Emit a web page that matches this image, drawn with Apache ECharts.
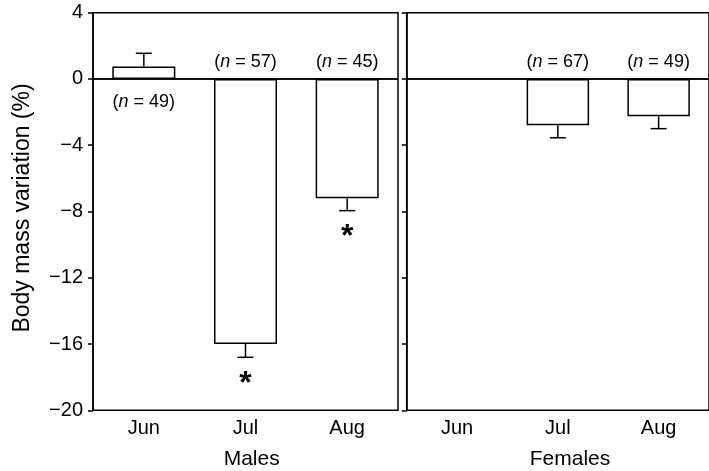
<!DOCTYPE html>
<html>
<head>
<meta charset="utf-8">
<script src="https://cdn.jsdelivr.net/npm/echarts@6/dist/echarts.min.js"></script>
<style>
html,body{margin:0;padding:0;background:#fff;}
#chart{width:709px;height:471px;}
</style>
</head>
<body>
<div id="chart"></div>
<script>
// ---- data ----
const months = ['Jun', 'Jul', 'Aug'];
const maleMean = [0.75, -16.0, -7.2];
const maleErrEnd = [1.55, -16.8, -7.95];
const maleN = [49, 57, 45];
const maleSig = [false, true, true];
const femaleMean = [null, -2.8, -2.25];
const femaleErrEnd = [null, -3.55, -3.0];
const femaleN = [null, 67, 49];
const femaleSig = [false, false, false];
const yTicks = [-20, -16, -12, -8, -4, 0, 4];
const groupNames = ['Males', 'Females'];
const yTitle = 'Body mass variation (%)';

const FONT = "'Liberation Sans', Arial, Helvetica, sans-serif";

const chart = echarts.init(document.getElementById('chart'), null, {renderer: 'canvas'});

function errData(mean, end) {
  const out = [];
  mean.forEach((v, i) => { if (v !== null) out.push([i, v, end[i]]); });
  return out;
}
function nData(mean, n) {
  const out = [];
  mean.forEach((v, i) => { if (v !== null) out.push([i, v, n[i]]); });
  return out;
}
function sigData(end, sig) {
  const out = [];
  sig.forEach((s, i) => { if (s) out.push([i, end[i]]); });
  return out;
}

function errorRender(params, api) {
  const c = api.value(0);
  const p1 = api.coord([c, api.value(1)]);
  const p2 = api.coord([c, api.value(2)]);
  const hw = 8;
  return {
    type: 'group',
    children: [
      {type: 'line', shape: {x1: p1[0], y1: p1[1], x2: p2[0], y2: p2[1]}, style: {stroke: '#000', lineWidth: 1.5}},
      {type: 'line', shape: {x1: p2[0] - hw, y1: p2[1], x2: p2[0] + hw, y2: p2[1]}, style: {stroke: '#000', lineWidth: 1.5}}
    ]
  };
}
function nRender(params, api) {
  const c = api.value(0);
  const v = api.value(1);
  const p = api.coord([c, 0]);
  const y = v >= 0 ? p[1] + 23 : p[1] - 17;
  return {
    type: 'text',
    style: {
      x: p[0], y: y,
      text: '(' + '{i|n}' + ' = ' + api.value(2) + ')',
      align: 'center', verticalAlign: 'middle',
      font: '18px ' + FONT, fill: '#000',
      rich: {i: {fontStyle: 'italic', fontSize: 18, fontFamily: FONT, fill: '#000'}}
    }
  };
}
function sigRender(params, api) {
  const c = api.value(0);
  const p = api.coord([c, api.value(1)]);
  return {
    type: 'text',
    style: {
      x: p[0], y: p[1] + 11,
      text: '*', align: 'center', verticalAlign: 'top',
      font: 'bold 32px ' + FONT, fill: '#000'
    }
  };
}

const gridTop = 12.7, gridH = 397.6;
const grids = [
  {left: 93, top: gridTop, width: 305, height: gridH, show: true, borderColor: '#000', borderWidth: 1.5, containLabel: false},
  {left: 406.7, top: gridTop, width: 306, height: gridH, show: true, borderColor: '#000', borderWidth: 1.5, containLabel: false}
];

const xAxes = [0, 1].map(g => ({
  type: 'category', gridIndex: g, data: months, boundaryGap: true,
  axisLine: {show: true, lineStyle: {color: '#000', width: 1.5}},
  axisTick: {show: false},
  axisLabel: {color: '#000', fontSize: 20, fontFamily: FONT, margin: 8},
  splitLine: {show: false}
}));

const yAxes = [0, 1].map(g => ({
  type: 'value', gridIndex: g, min: yTicks[0], max: yTicks[yTicks.length - 1], interval: 4,
  axisLine: {show: true, lineStyle: {color: '#000', width: 1.5}},
  axisTick: {show: true, inside: false, length: 5, lineStyle: {color: '#000', width: 1.5}},
  axisLabel: {show: g === 0, color: '#000', fontSize: 20, fontFamily: FONT, margin: 10,
    formatter: v => (v < 0 ? '\u2212' + Math.abs(v) : String(v))},
  splitLine: {show: false}
}));

const series = [];
[[maleMean, maleErrEnd, maleN, maleSig], [femaleMean, femaleErrEnd, femaleN, femaleSig]].forEach((d, g) => {
  series.push({
    type: 'bar', xAxisIndex: g, yAxisIndex: g, data: d[0], barWidth: '62%',
    itemStyle: {color: '#fff', borderColor: '#000', borderWidth: 1.5},
    silent: true,
    markLine: {silent: true, symbol: 'none', label: {show: false},
      lineStyle: {color: '#000', type: 'solid', width: 1.5}, data: [{yAxis: 0}]}
  });
  series.push({type: 'custom', xAxisIndex: g, yAxisIndex: g, renderItem: errorRender, data: errData(d[0], d[1]), silent: true, z: 3});
  series.push({type: 'custom', xAxisIndex: g, yAxisIndex: g, renderItem: nRender, data: nData(d[0], d[2]), silent: true, z: 4});
  series.push({type: 'custom', xAxisIndex: g, yAxisIndex: g, renderItem: sigRender, data: sigData(d[1], d[3]), silent: true, z: 4});
});

chart.setOption({
  animation: false,
  backgroundColor: '#fff',
  grid: grids,
  xAxis: xAxes,
  yAxis: yAxes,
  series: series,
  graphic: [
    {type: 'text', x: 23, y: 208, rotation: Math.PI / 2,
      style: {text: yTitle, font: '23px ' + FONT, fill: '#000', align: 'center', verticalAlign: 'middle'}},
    {type: 'text', x: 251.7, y: 459, style: {text: groupNames[0], font: '21px ' + FONT, fill: '#000', align: 'center', verticalAlign: 'middle'}},
    {type: 'text', x: 570, y: 459, style: {text: groupNames[1], font: '21px ' + FONT, fill: '#000', align: 'center', verticalAlign: 'middle'}}
  ]
});
</script>
</body>
</html>
